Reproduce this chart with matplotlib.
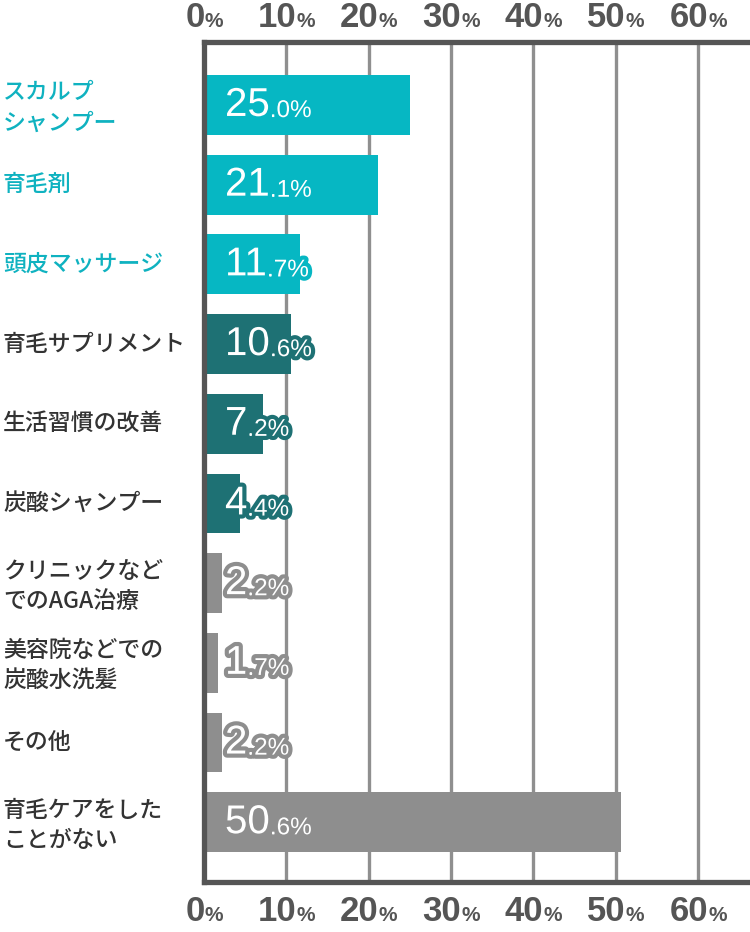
import matplotlib.pyplot as plt
import matplotlib.transforms as mtransforms
import matplotlib.patheffects as pe

# Data
categories = [
    "スカルプ\nシャンプー",
    "育毛剤",
    "頭皮マッサージ",
    "育毛サプリメント",
    "生活習慣の改善",
    "炭酸シャンプー",
    "クリニックなど\nでのAGA治療",
    "美容院などでの\n炭酸水洗髪",
    "その他",
    "育毛ケアをした\nことがない",
]
values = [25.0, 21.1, 11.7, 10.6, 7.2, 4.4, 2.2, 1.7, 2.2, 50.6]
groups = ["a", "a", "a", "b", "b", "b", "c", "c", "c", "c"]
ticks = [0, 10, 20, 30, 40, 50, 60]

bar_colors = {"a": "#06b7c3", "b": "#1e7174", "c": "#8e8e8e"}
label_colors = {"a": "#0fb2c0", "b": "#333333", "c": "#333333"}

plt.rcParams["font.family"] = ["Noto Sans CJK JP", "DejaVu Sans"]
NUM_FONT = ["Liberation Sans", "DejaVu Sans"]

fig = plt.figure(figsize=(7.5, 9.32), dpi=100)
ax = fig.add_axes([204 / 750, 1 - 882 / 932, 1 - 204 / 750, 840 / 932])

ypos = list(range(len(values)))
ax.barh(ypos, values, height=0.75,
        color=[bar_colors[g] for g in groups], zorder=3)

ax.set_xlim(0, 66.3)
ax.set_ylim(9.75, -0.79)
ax.set_xticks(ticks)
ax.set_xticklabels([])
ax.set_yticks([])
ax.tick_params(length=0)
ax.grid(axis="x", color="#8f8f8f", lw=2.4, zorder=1)

for side in ["top", "left", "bottom"]:
    ax.spines[side].set_color("#555555")
    ax.spines[side].set_linewidth(3.8)
    ax.spines[side].set_zorder(4)
ax.spines["right"].set_visible(False)

# category labels
lab_tr = mtransforms.blended_transform_factory(fig.transFigure, ax.transData)
for i, (cat, g) in enumerate(zip(categories, groups)):
    off = 0.04 if "\n" in cat else 0.0
    ax.text(3 / 750, i + off, cat, transform=lab_tr, ha="left", va="center",
            fontsize=16.5, color=label_colors[g], linespacing=1.42,
            fontweight="medium")

# value labels: big integer part, small decimal part
for i, (v, g) in enumerate(zip(values, groups)):
    s = f"{v:.1f}"
    big, small = s.split(".")
    stroke = [pe.withStroke(linewidth=6, foreground=bar_colors[g])]
    t = ax.annotate(big, xy=(0, i), xycoords="data", xytext=(21, 0),
                    textcoords="offset pixels", ha="left", va="center",
                    fontsize=29, color="white", family=NUM_FONT, zorder=5,
                    path_effects=stroke, annotation_clip=False)
    ax.annotate("." + small + "%", xy=(1, 0.05), xycoords=t, ha="left",
                va="bottom", fontsize=17.5, color="white", family=NUM_FONT,
                zorder=5, path_effects=stroke, annotation_clip=False)

# tick labels at top and bottom
pairs = []
for tk in ticks:
    for y in [1.0286, -0.0357]:
        t = ax.text(tk, y, str(tk), transform=ax.get_xaxis_transform(),
                    ha="center", va="center", fontsize=25, color="#555555",
                    family=NUM_FONT, fontweight="bold")
        p = ax.annotate("%", xy=(1, 0.12), xycoords=t, ha="left", va="bottom",
                        fontsize=15, color="#555555", family=NUM_FONT,
                        fontweight="bold", annotation_clip=False)
        pairs.append((t, p))

fig.canvas.draw()
for t, p in pairs:
    w = p.get_window_extent().width
    t.set_transform(ax.get_xaxis_transform()
                    + mtransforms.Affine2D().translate(-w / 2, 0))

fig.savefig("out.png", dpi=100)
